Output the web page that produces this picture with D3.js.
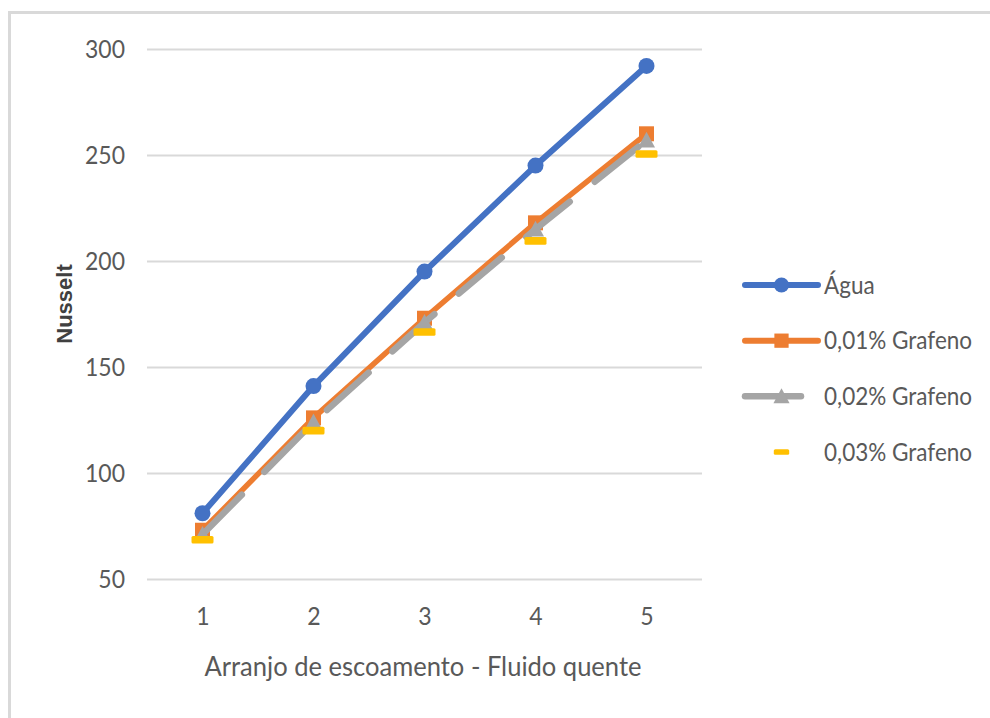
<!DOCTYPE html>
<html>
<head>
<meta charset="utf-8">
<script src="https://cdn.jsdelivr.net/npm/d3@7"></script>
<style>
  html, body { margin: 0; padding: 0; background: #fff; }
  svg { display: block; }
  text { font-family: Lato, "Open Sans", sans-serif; }
</style>
</head>
<body>
<svg id="chart" width="990" height="718"></svg>
<script>
// Nusselt number per flow arrangement (hot fluid)
const categories = ["1", "2", "3", "4", "5"];
const seriesNames = ["Água", "0,01% Grafeno", "0,02% Grafeno", "0,03% Grafeno"];
const aguaValues = [81, 141, 195, 245, 292];
const grafeno001Values = [73, 126, 173, 218, 260];
const grafeno002Values = [71, 124, 171, 215, 257];
const grafeno003Values = [68.5, 120, 166.5, 209.5, 250.5];
const yTicks = [50, 100, 150, 200, 250, 300];
const yTitle = "Nusselt";
const xTitle = "Arranjo de escoamento - Fluido quente";

const series = [
  { name: seriesNames[0], values: aguaValues,       color: "#4472C4", line: "solid",  marker: "circle" },
  { name: seriesNames[1], values: grafeno001Values, color: "#ED7D31", line: "solid",  marker: "square" },
  { name: seriesNames[2], values: grafeno002Values, color: "#A5A5A5", line: "dash",   marker: "triangle" },
  { name: seriesNames[3], values: grafeno003Values, color: "#FFC000", line: "none",   marker: "bar" }
];

const svg = d3.select("#chart");
const textColor = "#595959";
const gridColor = "#d9d9d9";

// outer chart frame
svg.append("path")
  .attr("d", "M9.5,1000 L9.5,12.5 L1000,12.5")
  .attr("fill", "none")
  .attr("stroke", gridColor)
  .attr("stroke-width", 3);

const plot = { left: 147, right: 702, top: 49, bottom: 579 };

const x = d3.scalePoint().domain(categories).range([plot.left, plot.right]).padding(0.5);
const y = d3.scaleLinear().domain([50, 300]).range([plot.bottom, plot.top]);

// squeeze text horizontally to a narrower set width
function squeeze(sel, k) {
  sel.each(function () {
    const w = this.getComputedTextLength();
    this.setAttribute("textLength", (w * k).toFixed(1));
    this.setAttribute("lengthAdjust", "spacingAndGlyphs");
  });
}

// horizontal gridlines
const yAxis = d3.axisLeft(y).tickValues(yTicks).tickSize(-(plot.right - plot.left)).tickPadding(22);
const gy = svg.append("g").attr("transform", `translate(${plot.left},0)`).call(yAxis);
gy.select(".domain").remove();
gy.selectAll(".tick line").attr("stroke", gridColor).attr("stroke-width", 2);
gy.selectAll(".tick text")
  .attr("fill", textColor)
  .style("font-size", "25px")
  .style("font-family", "Lato, 'Open Sans', sans-serif")
  .attr("dy", "0.35em");
squeeze(gy.selectAll(".tick text"), 0.92);

// category labels
const xAxis = d3.axisBottom(x).tickSize(0).tickPadding(28);
const gx = svg.append("g").attr("transform", `translate(0,${plot.bottom})`).call(xAxis);
gx.select(".domain").remove();
gx.selectAll(".tick text")
  .attr("fill", textColor)
  .style("font-size", "25px")
  .style("font-family", "Lato, 'Open Sans', sans-serif");
squeeze(gx.selectAll(".tick text"), 0.92);

// axis titles
svg.append("text")
  .attr("x", 423)
  .attr("y", 676)
  .attr("text-anchor", "middle")
  .attr("fill", textColor)
  .style("font-size", "27px")
  .attr("textLength", 437)
  .attr("lengthAdjust", "spacingAndGlyphs")
  .text(xTitle);

svg.append("text")
  .attr("transform", "translate(72,304) rotate(-90)")
  .attr("text-anchor", "middle")
  .attr("fill", "#404040")
  .style("font-family", "'Liberation Sans', Arial, sans-serif")
  .style("font-size", "22px")
  .style("font-weight", "bold")
  .text(yTitle);

// marker drawing
function drawMarker(g, type, color, cx, cy, scale) {
  const s = scale || 1;
  if (type === "circle") {
    g.append("circle").attr("cx", cx).attr("cy", cy).attr("r", 8 * s).attr("fill", color);
  } else if (type === "square") {
    const h = 7.5 * s;
    g.append("rect").attr("x", cx - h).attr("y", cy - h).attr("width", 2 * h).attr("height", 2 * h).attr("fill", color);
  } else if (type === "triangle") {
    const h = 8.5 * s;
    g.append("path")
      .attr("d", `M${cx},${cy - h} L${cx + h},${cy + h * 0.85} L${cx - h},${cy + h * 0.85} Z`)
      .attr("fill", color);
  } else if (type === "bar") {
    const w = 11 * s, t = 3.8 * s;
    g.append("rect").attr("x", cx - w).attr("y", cy - t).attr("width", 2 * w).attr("height", 2 * t)
      .attr("rx", 1.5).attr("fill", color);
  }
}

const lineGen = d3.line().x((d, i) => x(categories[i])).y(d => y(d));

const dashPattern = "56 32";
const lineWidths = { solid: 6, dash: 6.5 };

series.forEach(s => {
  const g = svg.append("g");
  if (s.line !== "none") {
    const p = g.append("path")
      .attr("d", lineGen(s.values))
      .attr("fill", "none")
      .attr("stroke", s.color)
      .attr("stroke-width", s.line === "dash" ? lineWidths.dash : (s.marker === "square" ? 5.5 : lineWidths.solid))
      .attr("stroke-linejoin", "round")
      .attr("stroke-linecap", "round");
    if (s.line === "dash") p.attr("stroke-dasharray", dashPattern);
  }
  s.values.forEach((v, i) => drawMarker(g, s.marker, s.color, x(categories[i]), y(v)));
});

// legend
const legend = svg.append("g");
const legendX0 = 745, legendX1 = 818, legendTextX = 824;
const legendY = d3.scalePoint().domain(seriesNames).range([285, 452]);
series.forEach(s => {
  const ly = legendY(s.name);
  if (s.line !== "none") {
    const p = legend.append("line")
      .attr("x1", legendX0).attr("x2", legendX1).attr("y1", ly).attr("y2", ly)
      .attr("stroke", s.color)
      .attr("stroke-width", s.line === "dash" ? lineWidths.dash : lineWidths.solid)
      .attr("stroke-linecap", "round");
    if (s.line === "dash") p.attr("stroke-dasharray", dashPattern);
  }
  drawMarker(legend, s.marker, s.color, (legendX0 + legendX1) / 2, ly, s.marker === "bar" ? 0.7 : 0.95);
  const t = legend.append("text")
    .attr("x", legendTextX).attr("y", ly).attr("dy", "0.35em")
    .attr("fill", textColor)
    .style("font-size", "25px")
    .text(s.name);
  squeeze(t, 0.9);
});
</script>
</body>
</html>
